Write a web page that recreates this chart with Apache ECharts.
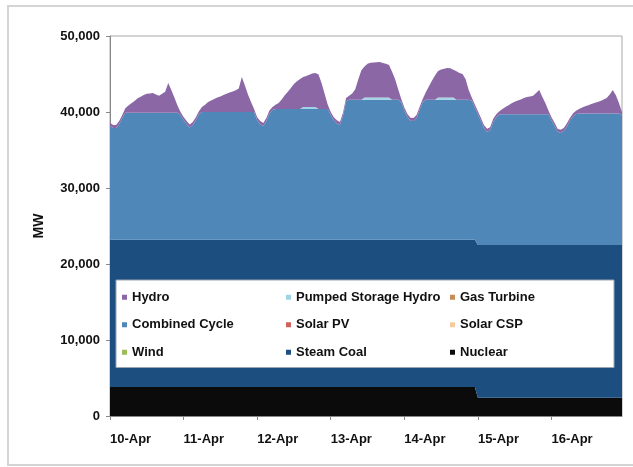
<!DOCTYPE html>
<html>
<head>
<meta charset="utf-8">
<script src="https://cdn.jsdelivr.net/npm/echarts@6/dist/echarts.min.js"></script>
<style>
  html, body { margin: 0; padding: 0; background: #fff; }
  #chart { width: 633px; height: 467px; }
</style>
</head>
<body>
<div id="chart"></div>
<script>
// one day label per 24 hourly points
const days = ['10-Apr', '11-Apr', '12-Apr', '13-Apr', '14-Apr', '15-Apr', '16-Apr']
const yTicks = [0, 10000, 20000, 30000, 40000, 50000]

// MW, hourly, one row per day
const nuclear = [
  3800, 3800, 3800, 3800, 3800, 3800, 3800, 3800, 3800, 3800, 3800, 3800, 3800, 3800, 3800, 3800, 3800, 3800, 3800, 3800, 3800, 3800, 3800, 3800,
  3800, 3800, 3800, 3800, 3800, 3800, 3800, 3800, 3800, 3800, 3800, 3800, 3800, 3800, 3800, 3800, 3800, 3800, 3800, 3800, 3800, 3800, 3800, 3800,
  3800, 3800, 3800, 3800, 3800, 3800, 3800, 3800, 3800, 3800, 3800, 3800, 3800, 3800, 3800, 3800, 3800, 3800, 3800, 3800, 3800, 3800, 3800, 3800,
  3800, 3800, 3800, 3800, 3800, 3800, 3800, 3800, 3800, 3800, 3800, 3800, 3800, 3800, 3800, 3800, 3800, 3800, 3800, 3800, 3800, 3800, 3800, 3800,
  3800, 3800, 3800, 3800, 3800, 3800, 3800, 3800, 3800, 3800, 3800, 3800, 3800, 3800, 3800, 3800, 3800, 3800, 3800, 3800, 3800, 3800, 3800, 3800,
  2400, 2400, 2400, 2400, 2400, 2400, 2400, 2400, 2400, 2400, 2400, 2400, 2400, 2400, 2400, 2400, 2400, 2400, 2400, 2400, 2400, 2400, 2400, 2400,
  2400, 2400, 2400, 2400, 2400, 2400, 2400, 2400, 2400, 2400, 2400, 2400, 2400, 2400, 2400, 2400, 2400, 2400, 2400, 2400, 2400, 2400, 2400, 2400
]
const steamCoal = [
  19400, 19400, 19400, 19400, 19400, 19400, 19400, 19400, 19400, 19400, 19400, 19400, 19400, 19400, 19400, 19400, 19400, 19400, 19400, 19400, 19400, 19400, 19400, 19400,
  19400, 19400, 19400, 19400, 19400, 19400, 19400, 19400, 19400, 19400, 19400, 19400, 19400, 19400, 19400, 19400, 19400, 19400, 19400, 19400, 19400, 19400, 19400, 19400,
  19400, 19400, 19400, 19400, 19400, 19400, 19400, 19400, 19400, 19400, 19400, 19400, 19400, 19400, 19400, 19400, 19400, 19400, 19400, 19400, 19400, 19400, 19400, 19400,
  19400, 19400, 19400, 19400, 19400, 19400, 19400, 19400, 19400, 19400, 19400, 19400, 19400, 19400, 19400, 19400, 19400, 19400, 19400, 19400, 19400, 19400, 19400, 19400,
  19400, 19400, 19400, 19400, 19400, 19400, 19400, 19400, 19400, 19400, 19400, 19400, 19400, 19400, 19400, 19400, 19400, 19400, 19400, 19400, 19400, 19400, 19400, 19400,
  20100, 20100, 20100, 20100, 20100, 20100, 20100, 20100, 20100, 20100, 20100, 20100, 20100, 20100, 20100, 20100, 20100, 20100, 20100, 20100, 20100, 20100, 20100, 20100,
  20100, 20100, 20100, 20100, 20100, 20100, 20100, 20100, 20100, 20100, 20100, 20100, 20100, 20100, 20100, 20100, 20100, 20100, 20100, 20100, 20100, 20100, 20100, 20100
]
const combinedCycle = [
  15000, 14700, 14700, 15200, 16000, 16700, 16700, 16700, 16700, 16700, 16700, 16700, 16700, 16700, 16700, 16700, 16700, 16700, 16700, 16700, 16700, 16700, 16700, 16400,
  15750, 15200, 14750, 15100, 15700, 16500, 16800, 16800, 16800, 16800, 16800, 16800, 16800, 16800, 16800, 16800, 16800, 16800, 16800, 16800, 16800, 16800, 16800, 16800,
  15700, 15200, 14950, 15600, 16600, 17050, 17200, 17200, 17200, 17200, 17200, 17200, 17200, 17200, 17200, 17200, 17200, 17200, 17200, 17200, 17200, 17200, 17200, 17200,
  16400, 15700, 15300, 15100, 16300, 18200, 18400, 18400, 18400, 18400, 18400, 18400, 18400, 18400, 18400, 18400, 18400, 18400, 18400, 18400, 18400, 18400, 18400, 18100,
  17000, 16150, 15650, 15600, 16000, 17100, 18100, 18400, 18400, 18400, 18400, 18400, 18400, 18400, 18400, 18400, 18400, 18400, 18400, 18400, 18400, 18400, 18300, 17400,
  17200, 16300, 15350, 14900, 15100, 16200, 16800, 17200, 17200, 17200, 17200, 17200, 17200, 17200, 17200, 17200, 17200, 17200, 17200, 17200, 17200, 17200, 17200, 17200,
  16400, 15700, 14900, 14750, 15000, 15600, 16300, 16900, 17250, 17300, 17300, 17300, 17300, 17300, 17300, 17300, 17300, 17300, 17300, 17300, 17300, 17300, 17300, 17100
]
const pumpedStorage = [
  0, 0, 0, 0, 0, 0, 0, 0, 0, 0, 0, 0, 0, 0, 0, 0, 0, 0, 0, 0, 0, 0, 0, 0,
  0, 0, 0, 0, 0, 0, 0, 0, 0, 0, 0, 0, 0, 0, 0, 0, 0, 0, 0, 0, 0, 0, 0, 0,
  0, 0, 0, 0, 0, 0, 0, 0, 0, 0, 0, 0, 0, 0, 0, 250, 250, 250, 250, 250, 0, 0, 0, 0,
  0, 0, 0, 0, 0, 0, 0, 0, 0, 0, 0, 300, 300, 300, 300, 300, 300, 300, 300, 300, 0, 0, 0, 0,
  0, 0, 0, 0, 0, 0, 0, 0, 0, 0, 0, 300, 300, 300, 300, 300, 300, 0, 0, 0, 0, 0, 0, 0,
  0, 0, 0, 0, 0, 0, 0, 0, 0, 0, 0, 0, 0, 0, 0, 0, 0, 0, 0, 0, 0, 0, 0, 0,
  0, 0, 0, 0, 0, 0, 0, 0, 0, 0, 0, 0, 0, 0, 0, 0, 0, 0, 0, 0, 0, 0, 0, 0
]
const hydro = [
  400, 400, 400, 400, 400, 600, 950, 1250, 1550, 1900, 2100, 2350, 2500, 2550, 2600, 2400, 2250, 2500, 2750, 3900, 3000, 2000, 950, 400,
  400, 400, 400, 400, 400, 400, 650, 950, 1300, 1500, 1700, 1900, 2050, 2250, 2400, 2550, 2700, 2850, 3100, 4600, 3500, 2300, 1300, 400,
  400, 400, 400, 400, 400, 400, 550, 800, 1250, 1800, 2250, 2750, 3300, 3650, 3950, 3950, 4100, 4250, 4400, 4480, 4550, 3400, 2000, 600,
  400, 400, 400, 400, 400, 450, 550, 850, 1400, 2700, 3900, 4100, 4450, 4580, 4600, 4650, 4680, 4550, 4450, 4300, 3700, 2700, 1400, 400,
  400, 400, 400, 400, 400, 400, 400, 1000, 1750, 2500, 3200, 3500, 3700, 3800, 3880, 3850, 3650, 3750, 3530, 3400, 2700, 1300, 400, 400,
  400, 400, 400, 400, 400, 400, 400, 400, 700, 950, 1200, 1450, 1650, 1800, 1950, 2150, 2270, 2350, 2450, 2800, 3200, 2300, 1500, 500,
  400, 400, 400, 400, 400, 400, 400, 400, 400, 600, 800, 950, 1100, 1250, 1400, 1500, 1650, 1850, 2050, 2500, 3100, 2400, 1400, 400
]
// not visible at this scale
const wind = []
const solarCSP = []
const solarPV = []
const gasTurbine = []

// legend reads row by row, three columns
const legendOrder = [
  'Hydro', 'Pumped Storage Hydro', 'Gas Turbine',
  'Combined Cycle', 'Solar PV', 'Solar CSP',
  'Wind', 'Steam Coal', 'Nuclear'
]

const hours = []
days.forEach(function(d) {
  for (let h = 0; h < 24; h++) hours.push(d + ' ' + h)
})

const font = 'Liberation Sans, Arial, sans-serif'
const colors = {
  'Nuclear': '#0b0b0b',
  'Steam Coal': '#1c4f80',
  'Wind': '#9bbb59',
  'Solar CSP': '#f9c9a0',
  'Solar PV': '#d0605c',
  'Combined Cycle': '#4f87b9',
  'Gas Turbine': '#c98a55',
  'Pumped Storage Hydro': '#9fd4e4',
  'Hydro': '#8b67a6'
}

function area(name, data, stacked) {
  return {
    name: name,
    type: 'line',
    stack: stacked ? 'total' : undefined,
    data: data,
    symbol: 'none',
    color: colors[name],
    lineStyle: { width: 0 },
    areaStyle: { color: colors[name], opacity: 1 },
    emphasis: { disabled: true }
  }
}

const chart = echarts.init(document.getElementById('chart'))
chart.setOption({
  animation: false,
  backgroundColor: '#fff',
  grid: { left: 110, right: 11, top: 36, bottom: 51, show: true, borderColor: '#a8a8a8', borderWidth: 1 },
  // outer frame of the picture
  graphic: [
    { type: 'rect', shape: { x: 8, y: 6, width: 640, height: 459 }, style: { fill: 'none', stroke: '#d4d4d4', lineWidth: 2 } }
  ],
  legend: {
    orient: 'horizontal',
    left: 116,
    top: 280,
    width: 490,
    padding: [6, 5, 4, 6],
    itemGap: 5,
    itemWidth: 5,
    itemHeight: 5,
    icon: 'rect',
    selectedMode: false,
    backgroundColor: '#fff',
    borderColor: '#9aa6b2',
    borderWidth: 1,
    data: legendOrder.map(function(n) {
      return { name: n, icon: 'rect', itemStyle: { color: colors[n] } }
    }),
    textStyle: { fontFamily: font, fontSize: 13, fontWeight: 'bold', color: '#111', width: 149, lineHeight: 22.5 }
  },
  xAxis: {
    type: 'category',
    data: hours,
    boundaryGap: false,
    axisLine: { lineStyle: { color: '#888' } },
    axisTick: { interval: 23, length: 4, lineStyle: { color: '#888' } },
    axisLabel: {
      interval: 23,
      align: 'left',
      margin: 17,
      fontFamily: font,
      fontSize: 13,
      fontWeight: 'bold',
      color: '#111',
      formatter: function(v) { return v.split(' ')[0] }
    },
    splitLine: { show: false }
  },
  yAxis: {
    type: 'value',
    min: yTicks[0],
    max: yTicks[yTicks.length - 1],
    interval: 10000,
    name: 'MW',
    nameLocation: 'middle',
    nameRotate: 90,
    nameGap: 64,
    nameTextStyle: { fontFamily: font, fontSize: 14, fontWeight: 'bold', color: '#111' },
    axisLine: { show: true, lineStyle: { color: '#888' } },
    axisTick: { show: true, length: 4, lineStyle: { color: '#888' } },
    axisLabel: {
      margin: 10,
      fontFamily: font,
      fontSize: 13,
      fontWeight: 'bold',
      color: '#111',
      formatter: function(v) { return v.toLocaleString('en-US') }
    },
    splitLine: { show: false }
  },
  series: [
    area('Nuclear', nuclear, true),
    area('Steam Coal', steamCoal, true),
    area('Wind', wind, false),
    area('Solar CSP', solarCSP, false),
    area('Solar PV', solarPV, false),
    area('Combined Cycle', combinedCycle, true),
    area('Gas Turbine', gasTurbine, false),
    area('Pumped Storage Hydro', pumpedStorage, true),
    area('Hydro', hydro, true)
  ]
})
</script>
</body>
</html>
